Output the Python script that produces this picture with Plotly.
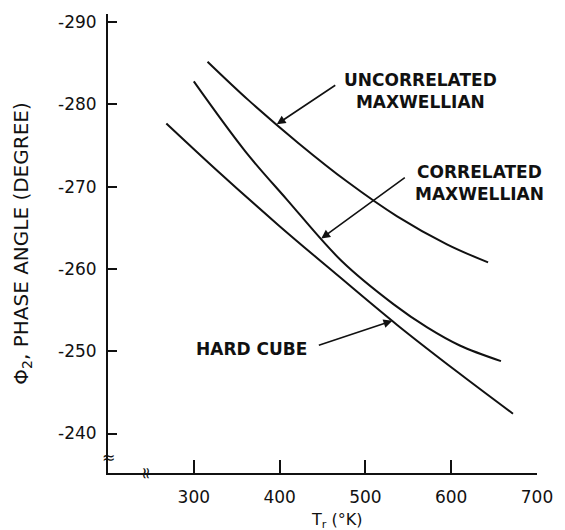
import plotly.graph_objects as go

# ---- data ----
hard_cube_T = [268, 329, 399, 468, 537, 607, 672]
hard_cube_phi = [-277.7, -271.8, -265.3, -259.2, -253.2, -247.5, -242.4]

correlated_T = [300, 360, 408, 472, 533, 572, 610, 658]
correlated_phi = [-282.8, -274.3, -268.5, -261.0, -255.7, -252.9, -250.7, -248.8]

uncorrelated_T = [316, 364, 422, 479, 537, 595, 643]
uncorrelated_phi = [-285.2, -280.5, -275.3, -270.6, -266.4, -263.0, -260.8]

x_ticks = [300, 400, 500, 600, 700]
y_ticks = [-290, -280, -270, -260, -250, -240]
y_tick_text = ["-290", "-280", "-270", "-260", "-250", "-240"]

FONT = "DejaVu Sans"
INK = "#111111"

fig = go.Figure()
for xs, ys in [(hard_cube_T, hard_cube_phi), (correlated_T, correlated_phi),
               (uncorrelated_T, uncorrelated_phi)]:
    fig.add_trace(go.Scatter(x=xs, y=ys, mode="lines",
                             line=dict(color=INK, width=2, shape="spline", smoothing=1.0),
                             showlegend=False, hoverinfo="skip"))

# labels
labels = [
    ("UNCORRELATED<br>MAXWELLIAN", 564, -281.6),
    ("CORRELATED<br>MAXWELLIAN", 633, -270.4),
    ("HARD CUBE", 367, -250.3),
]
for txt, x, y in labels:
    fig.add_annotation(x=x, y=y, text=txt, showarrow=False, align="center",
                       xanchor="center", yanchor="middle",
                       font=dict(family=FONT, size=17, color=INK, weight="bold"))

# arrows (tip on curve, tail near label)
arrows = [
    (396.7, -277.6, 60, -40),
    (448.6, -263.7, 85, -62),
    (531.4, -253.7, -75, 25),
]
for x, y, ax, ay in arrows:
    fig.add_annotation(x=x, y=y, ax=ax, ay=ay, text="", showarrow=True,
                       arrowhead=2, arrowsize=1.1, arrowwidth=1.6, arrowcolor=INK, standoff=0)

# axis break marks
fig.add_annotation(xref="paper", x=0, y=-237.1, text="≈", showarrow=False,
                   xanchor="center", yanchor="middle",
                   font=dict(family=FONT, size=16, color=INK))
fig.add_annotation(x=246, yref="paper", y=0, text="≈", textangle=90, showarrow=False,
                   xanchor="center", yanchor="middle",
                   font=dict(family=FONT, size=16, color=INK))

# x-axis title
fig.add_annotation(x=466, yref="paper", y=0, yshift=-47, text="T<sub>r</sub> (°K)",
                   showarrow=False, xanchor="center", yanchor="middle",
                   font=dict(family=FONT, size=16, color=INK))

fig.update_layout(
    width=565, height=530,
    margin=dict(l=108, r=24, t=12, b=57),
    paper_bgcolor="white", plot_bgcolor="white",
    font=dict(family=FONT, size=17, color=INK),
    xaxis=dict(range=[200, 700], tickvals=x_ticks, ticks="inside", ticklen=13, tickwidth=1.6,
               tickcolor=INK, showline=True, linecolor=INK, linewidth=2, showgrid=False,
               zeroline=False, ticklabelstandoff=8,
               tickfont=dict(family=FONT, size=17, color=INK)),
    yaxis=dict(range=[-235.2, -291], tickvals=y_ticks, ticktext=y_tick_text, ticks="inside",
               ticklen=9, tickwidth=1.6, tickcolor=INK, showline=True, linecolor=INK, linewidth=2,
               showgrid=False, zeroline=False, ticklabelstandoff=6,
               tickfont=dict(family=FONT, size=17, color=INK),
               title=dict(text="Φ<sub>2</sub>, PHASE ANGLE (DEGREE)", standoff=24,
                          font=dict(family=FONT, size=20, color=INK))),
)

fig.write_html("out.html")
